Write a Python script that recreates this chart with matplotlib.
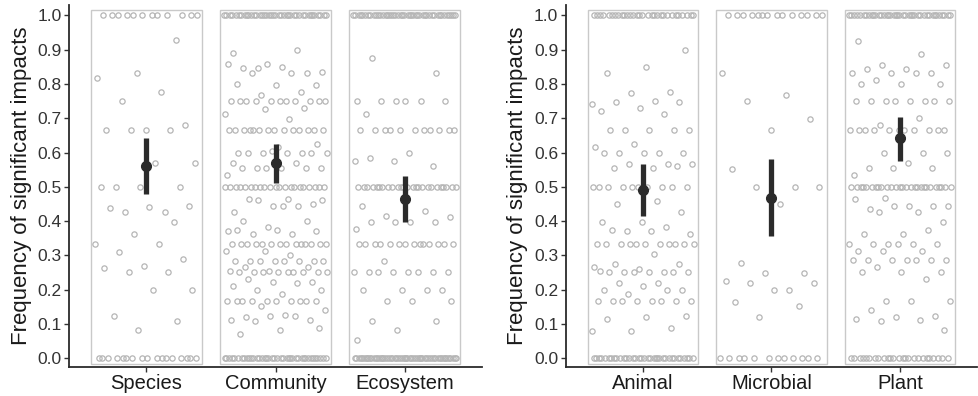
import numpy as np
import matplotlib
matplotlib.use("Agg")
import matplotlib.pyplot as plt
from matplotlib.patches import Rectangle

plt.rcParams['font.family'] = ['Liberation Sans', 'DejaVu Sans']

# panel categories
left_cats = ['Species', 'Community', 'Ecosystem']
right_cats = ['Animal', 'Microbial', 'Plant']

# mean and interval per category
left_means = [0.562, 0.568, 0.464]
left_lo = [0.480, 0.511, 0.396]
left_hi = [0.642, 0.625, 0.531]
right_means = [0.490, 0.466, 0.643]
right_lo = [0.415, 0.357, 0.576]
right_hi = [0.566, 0.580, 0.703]

# raw observations (estimated from the scatter)
species = ([1.0] * 12 + [0.928, 0.833, 0.816, 0.776, 0.749, 0.681] + [0.667] * 4
           + [0.569, 0.569] + [0.5] * 4 + [0.427, 0.427, 0.444, 0.44, 0.4375, 0.398, 0.363]
           + [0.333, 0.333, 0.309, 0.289, 0.268, 0.263, 0.25, 0.25, 0.2, 0.2, 0.123, 0.109, 0.082]
           + [0.0] * 17)

community = ([1.0] * 40 + [0.889, 0.898, 0.847, 0.834, 0.849, 0.847, 0.833, 0.857, 0.857, 0.833, 0.833,
                           0.798, 0.798, 0.8, 0.776, 0.768] + [0.75] * 11
             + [0.73, 0.726, 0.713, 0.699] + [0.667] * 14 + [0.624, 0.615] + [0.6] * 7
             + [0.605, 0.569, 0.57] + [0.555] * 6 + [0.534] + [0.5] * 21
             + [0.464, 0.464, 0.45, 0.444, 0.427, 0.444, 0.46, 0.46, 0.444, 0.399, 0.399, 0.383, 0.372,
                0.362, 0.362, 0.37, 0.375, 0.375] + [0.333] * 14 + [0.312, 0.312, 0.301]
             + [0.284] * 8 + [0.265, 0.265, 0.255, 0.255] + [0.25] * 9
             + [0.232, 0.222, 0.222, 0.211, 0.22, 0.198, 0.198, 0.188] + [0.167] * 10
             + [0.152, 0.141, 0.125, 0.12, 0.112, 0.124, 0.11, 0.124, 0.109, 0.089, 0.082, 0.071]
             + [0.0] * 40)

ecosystem = ([1.0] * 45 + [0.875, 0.833] + [0.75] * 6 + [0.713] + [0.667] * 11
             + [0.6, 0.583, 0.56, 0.575, 0.575] + [0.5] * 25
             + [0.444, 0.43, 0.415, 0.412, 0.398, 0.398, 0.398, 0.398, 0.377] + [0.333] * 14
             + [0.284] + [0.25] * 8 + [0.2] * 4 + [0.167] * 3 + [0.109, 0.109, 0.082, 0.053]
             + [0.0] * 60)

animal = ([1.0] * 30 + [0.898, 0.849, 0.833, 0.776, 0.773, 0.742, 0.749, 0.746, 0.746, 0.73, 0.72, 0.713]
          + [0.667] * 5 + [0.624, 0.615, 0.6, 0.598, 0.598, 0.598, 0.598, 0.567, 0.567, 0.567,
                           0.554, 0.554, 0.56] + [0.5] * 10
          + [0.459, 0.45, 0.426, 0.398, 0.398, 0.383, 0.372, 0.362, 0.37, 0.373] + [0.333] * 11
          + [0.303, 0.275, 0.275, 0.26, 0.255, 0.252] + [0.25] * 6 + [0.265, 0.22, 0.22, 0.2, 0.21, 0.2, 0.2, 0.187]
          + [0.167] * 8 + [0.122, 0.12, 0.115, 0.089, 0.08, 0.08]
          + [0.0] * 35)

microbial = ([1.0] * 14 + [0.831, 0.767, 0.749, 0.698, 0.666, 0.553, 0.5, 0.5, 0.5, 0.45,
                           0.279, 0.249, 0.248, 0.226, 0.2, 0.22, 0.22, 0.199, 0.165, 0.152, 0.121]
             + [0.0] * 12)

plant = ([1.0] * 40 + [0.926, 0.887, 0.855, 0.855, 0.843, 0.843, 0.833, 0.833, 0.833, 0.833, 0.812,
                       0.799, 0.799, 0.799] + [0.75] * 8 + [0.7, 0.68] + [0.667] * 11
         + [0.598, 0.598, 0.598, 0.569, 0.554, 0.554, 0.554, 0.534] + [0.5] * 27
         + [0.466, 0.443, 0.443, 0.434, 0.443, 0.443, 0.465, 0.426, 0.426, 0.398, 0.362, 0.362, 0.373]
         + [0.333] * 6 + [0.312] * 3 + [0.285] * 7 + [0.265] + [0.25] * 3 + [0.232]
         + [0.167] * 3 + [0.14, 0.124, 0.121, 0.114, 0.111, 0.109, 0.082]
         + [0.0] * 25)

left_data = [species, community, ecosystem]
right_data = [animal, microbial, plant]

POINT_GREY = '#b5b5b5'
BOX_GREY = '#c9c9c9'
DARK = '#2b2b2b'
GOLDEN = 0.6180339887


def jitter(n, width=0.4):
    # evenly spread offsets (low discrepancy), stands in for ggplot's jitter
    frac = (np.arange(n) * GOLDEN + 0.37) % 1.0
    return (frac - 0.5) * 2 * width


def draw_panel(ax, cats, data, means, lo, hi):
    for i, vals in enumerate(data):
        pos = i + 1
        ax.add_patch(Rectangle((pos - 0.43, -0.018), 0.86, 1.033, fill=False,
                               edgecolor=BOX_GREY, linewidth=1.0, zorder=1))
        vals = np.asarray(vals)
        ax.plot(pos + jitter(len(vals)), vals, 'o', markersize=3.8, markerfacecolor='none',
                markeredgecolor=POINT_GREY, markeredgewidth=0.9, zorder=2)
        ax.vlines(pos, lo[i], hi[i], color=DARK, linewidth=3.8, zorder=3)
        ax.plot(pos, means[i], 'o', color=DARK, markersize=7, zorder=4)

    ax.set_xlim(0.4, 3.6)
    ax.set_ylim(-0.025, 1.03)
    ax.set_xticks(range(1, len(cats) + 1))
    ax.set_xticklabels(cats, fontsize=14.5, color='#1a1a1a')
    ax.set_yticks(np.arange(0, 1.01, 0.1))
    ax.set_yticklabels(['%.1f' % v for v in np.arange(0, 1.01, 0.1)], fontsize=12.5, color='#333333')
    ax.set_ylabel('Frequency of significant impacts', fontsize=16, color='#1a1a1a', labelpad=4)

    for side in ['top', 'right']:
        ax.spines[side].set_visible(False)
    for side in ['left', 'bottom']:
        ax.spines[side].set_color('#2b2b2b')
        ax.spines[side].set_linewidth(1.3)
    ax.tick_params(axis='both', length=3.5, width=1.0, color='#333333', pad=2)


fig = plt.figure(figsize=(9.79, 3.96), dpi=100)
ax1 = fig.add_axes([0.0705, 0.074, 0.422, 0.913])
ax2 = fig.add_axes([0.578, 0.074, 0.420, 0.913])

draw_panel(ax1, left_cats, left_data, left_means, left_lo, left_hi)
draw_panel(ax2, right_cats, right_data, right_means, right_lo, right_hi)

fig.savefig('out.png', dpi=100)
